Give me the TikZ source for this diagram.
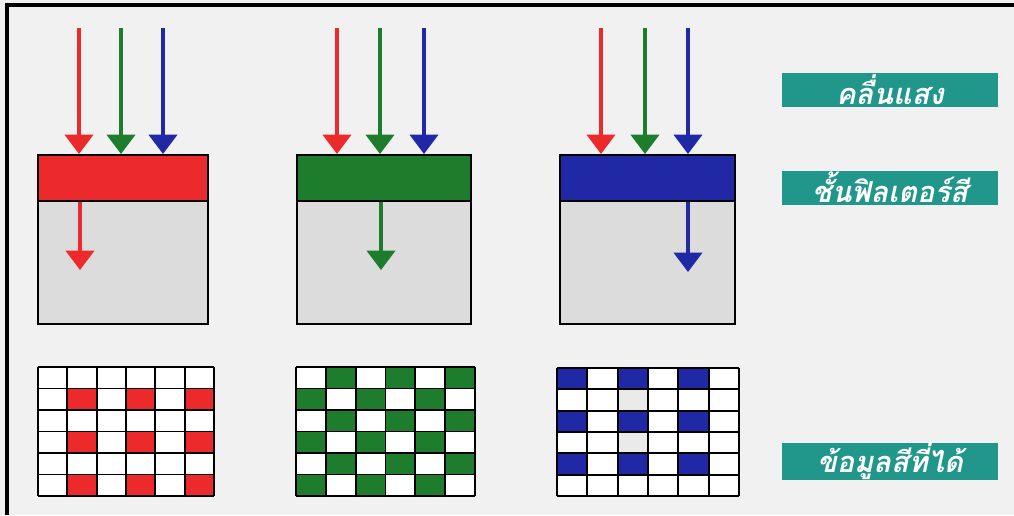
\documentclass[tikz,border=0pt]{standalone}
\usepackage{xcolor}
\usepackage{fontspec}
\usepackage{tikz}
\usetikzlibrary{positioning,arrows.meta}
\newfontfamily\thaifont[Script=Thai]{Loma}
\definecolor{pageGray}{HTML}{F1F1F1}
\definecolor{bodyGray}{HTML}{DCDCDC}
\definecolor{lightRed}{HTML}{EC2A2C}
\definecolor{lightGreen}{HTML}{1E7D2C}
\definecolor{lightBlue}{HTML}{2028A6}
\definecolor{labelTeal}{HTML}{21968A}

\begin{document}
\begin{tikzpicture}[
    x=0.02cm, y=-0.02cm,
    filter/.style={
        draw=black,
        line width=1pt,
        anchor=north west,
        minimum height=46*0.02cm,
        inner sep=0pt
    },
    body/.style={
        draw=black,
        line width=1pt,
        fill=bodyGray,
        anchor=north west,
        minimum height=123*0.02cm,
        inner sep=0pt
    },
    ray/.style={
        -{Triangle[length=11pt,width=16pt]},
        line width=2.1pt
    },
    label/.style={
        fill=labelTeal,
        text=white,
        minimum width=216*0.02cm,
        minimum height=34*0.02cm,
        inner sep=0pt,
        font=\thaifont\bfseries\itshape\fontsize{16.5}{19}\selectfont
    },
    cellline/.style={draw=black, line width=1.1pt}
]
% page
\fill[pageGray] (0,0) rectangle (1014,515);
\useasboundingbox (0,0) rectangle (1014,515);
\draw[line width=1.8pt] (7,515) -- (7,5) -- (1014,5);

% filters and bodies
\node[body, minimum width=170*0.02cm] (b1) at (37,200) {};
\node[filter, fill=lightRed, minimum width=170*0.02cm] (f1) at (37,154) {};
\node[body, minimum width=174*0.02cm] (b2) at (296,200) {};
\node[filter, fill=lightGreen, minimum width=174*0.02cm] (f2) at (296,154) {};
\node[body, minimum width=175*0.02cm] (b3) at (559,200) {};
\node[filter, fill=lightBlue, minimum width=175*0.02cm] (f3) at (559,154) {};

% light waves
\coordinate (r1) at (79,28);  \coordinate (g1) at (121,28); \coordinate (u1) at (163,28);
\coordinate (r2) at (337,28); \coordinate (g2) at (380,28); \coordinate (u2) at (424,28);
\coordinate (r3) at (601,28); \coordinate (g3) at (645,28); \coordinate (u3) at (688,28);
\foreach \i in {1,2,3} {
    \draw[ray, lightRed]   (r\i) -- (r\i |- f\i.north);
    \draw[ray, lightGreen] (g\i) -- (g\i |- f\i.north);
    \draw[ray, lightBlue]  (u\i) -- (u\i |- f\i.north);
}

% light passing through
\coordinate (o1) at (80,270);
\coordinate (o2) at (381,270);
\coordinate (o3) at (688,272);
\draw[ray, lightRed]   (o1 |- f1.south) -- (o1);
\draw[ray, lightGreen] (o2 |- f2.south) -- (o2);
\draw[ray, lightBlue]  (o3 |- f3.south) -- (o3);

% colour data grids
\fill[white] (38,367) rectangle (214,496);
\fill[white] (296,367) rectangle (475,496);
\fill[white] (557,368) rectangle (739,496);
\foreach \c in {1,3,5} \foreach \r in {1,3,5}
    \fill[lightRed] (38+\c*29.33,367+\r*21.5) rectangle ++(29.33,21.5);
\foreach \c in {0,...,5} \foreach \r in {0,...,5} {
    \pgfmathtruncatemacro\odd{mod(\c+\r,2)}
    \ifnum\odd=1
        \fill[lightGreen] (296+\c*29.83,367+\r*21.5) rectangle ++(29.83,21.5);
    \fi
}
\foreach \c in {0,2,4} \foreach \r in {0,2,4}
    \fill[lightBlue] (557+\c*30.33,368+\r*21.33) rectangle ++(30.33,21.33);
\foreach \r in {1,3}
    \fill[bodyGray!60] (557+2*30.33,368+\r*21.33) rectangle ++(30.33,21.33);
\foreach \k in {0,...,6} {
    \draw[cellline] (38+\k*29.33,367) -- (38+\k*29.33,496);
    \draw[cellline] (38,367+\k*21.5) -- (214,367+\k*21.5);
    \draw[cellline] (296+\k*29.83,367) -- (296+\k*29.83,496);
    \draw[cellline] (296,367+\k*21.5) -- (475,367+\k*21.5);
    \draw[cellline] (557+\k*30.33,368) -- (557+\k*30.33,496);
    \draw[cellline] (557,368+\k*21.33) -- (739,368+\k*21.33);
}

% labels
\node[label] (wave) at (890,90) {คลื่นแสง};
\node[label] (layer) at (890,187.5) {ชั้นฟิลเตอร์สี};
\node[label] (data) at (890,461.5) {ข้อมูลสีที่ได้};
\end{tikzpicture}
\end{document}
